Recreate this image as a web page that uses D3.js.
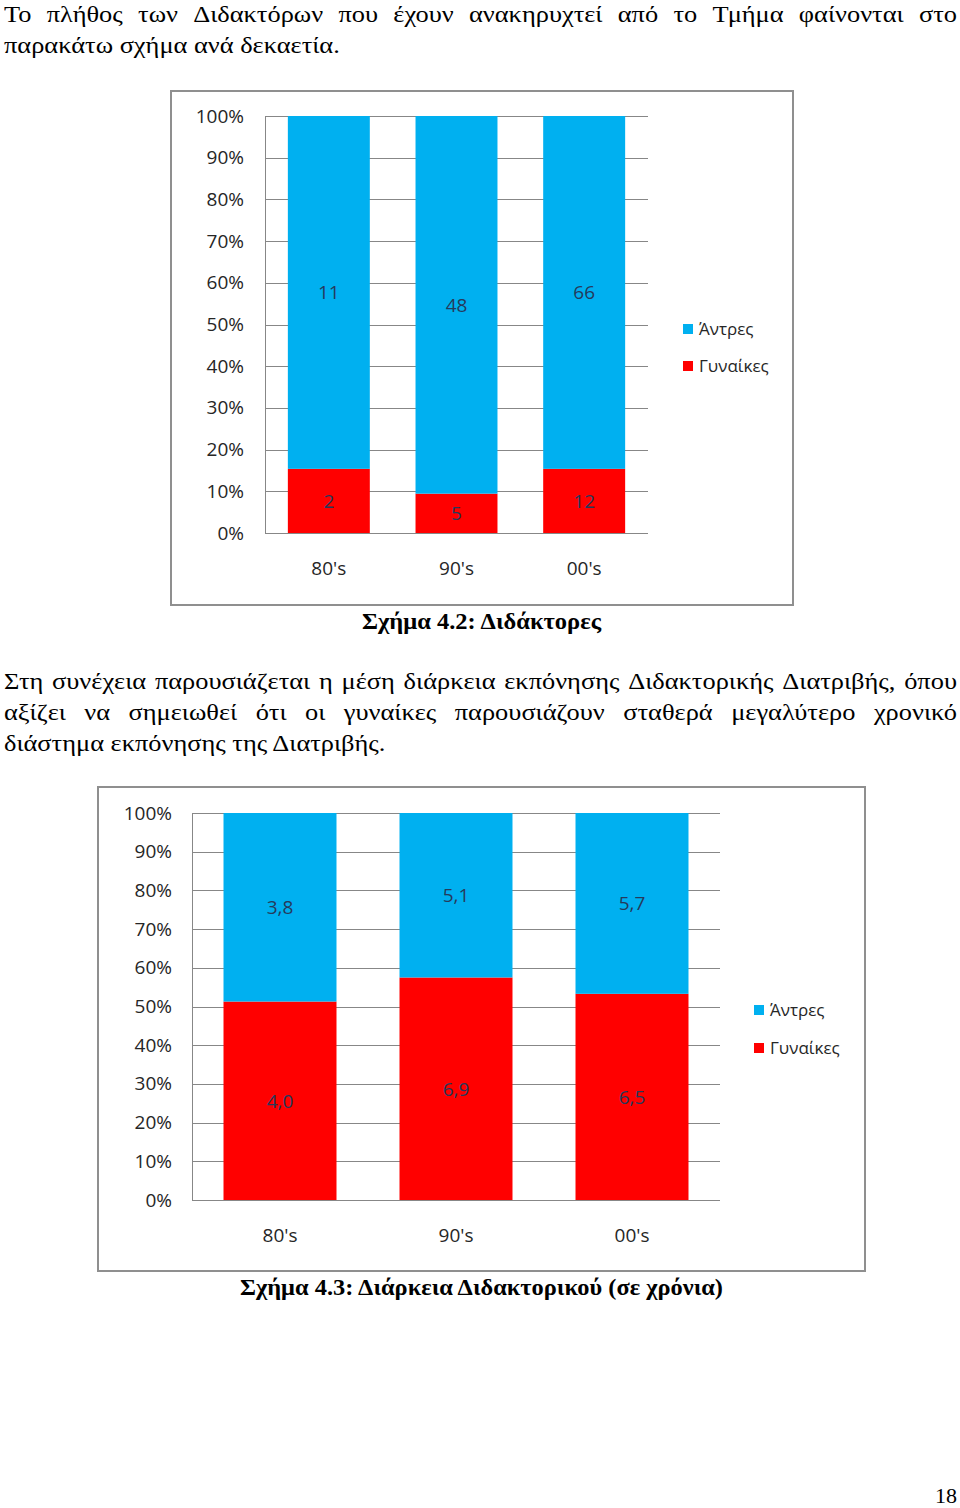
<!DOCTYPE html>
<html>
<head>
<meta charset="utf-8">
<script src="https://cdn.jsdelivr.net/npm/d3@7"></script>
<style>
html,body{margin:0;padding:0;background:#fff;}
svg{display:block;}
</style>
</head>
<body>
<svg id="page" width="960" height="1508"></svg>
<script>
// ---- data ----
const categories = ["80's", "90's", "00's"];
const seriesNames = ["Άντρες", "Γυναίκες"];
const menCount = [11, 48, 66];
const womenCount = [2, 5, 12];
const menDuration = [3.8, 5.1, 5.7];
const womenDuration = [4.0, 6.9, 6.5];
const yTickValues = [0, 0.1, 0.2, 0.3, 0.4, 0.5, 0.6, 0.7, 0.8, 0.9, 1.0];

const para1 = [
  "Το πλήθος των Διδακτόρων που έχουν ανακηρυχτεί από το Τμήμα φαίνονται στο",
  "παρακάτω σχήμα ανά δεκαετία."
];
const para2 = [
  "Στη συνέχεια παρουσιάζεται η μέση διάρκεια εκπόνησης Διδακτορικής Διατριβής, όπου",
  "αξίζει να σημειωθεί ότι οι γυναίκες παρουσιάζουν σταθερά μεγαλύτερο χρονικό",
  "διάστημα εκπόνησης της Διατριβής."
];
const caption1 = "Σχήμα 4.2: Διδάκτορες";
const caption2 = "Σχήμα 4.3: Διάρκεια Διδακτορικού (σε χρόνια)";
const pageNumber = "18";

const BLUE = "#00B0F0", RED = "#FF0000";
const SERIF = "'Liberation Serif','Times New Roman',serif";
const SANS = "'Open Sans','Noto Sans',sans-serif";

const svg = d3.select("#page");

// ---- body text with justification ----
function measure(str, size, weight) {
  const t = svg.append("text").attr("font-family", SERIF).attr("font-size", size)
    .attr("font-weight", weight || "normal").attr("x", -1000).attr("y", -1000).text(str);
  const w = t.node().getComputedTextLength();
  t.remove();
  return w;
}
const FS = 23;
// horizontal scale from the last line of paragraph 1 (ends at x≈340 in reference)
const kx = 336 / measure(para1[1], FS);

function drawLine(str, x0, baseline, justifyTo) {
  const g = svg.append("g").attr("transform", `translate(${x0},${baseline}) scale(${kx},1)`);
  if (!justifyTo) {
    g.append("text").attr("font-family", SERIF).attr("font-size", FS).attr("fill", "#000").text(str);
    return;
  }
  const words = str.split(" ");
  const widths = words.map(w => measure(w, FS));
  const total = d3.sum(widths);
  const avail = (justifyTo - x0) / kx;
  const gap = (avail - total) / (words.length - 1);
  let x = 0;
  words.forEach((w, i) => {
    g.append("text").attr("font-family", SERIF).attr("font-size", FS).attr("fill", "#000")
      .attr("x", x).text(w);
    x += widths[i] + gap;
  });
}
drawLine(para1[0], 4, 22, 957);
drawLine(para1[1], 4, 53);
drawLine(para2[0], 4, 689, 957);
drawLine(para2[1], 4, 720, 957);
drawLine(para2[2], 4, 751);

function drawCaption(str, cx, baseline, width) {
  svg.append("text").attr("font-family", SERIF).attr("font-size", 23).attr("font-weight", "bold")
    .attr("x", cx - width / 2).attr("y", baseline)
    .attr("textLength", width).attr("lengthAdjust", "spacingAndGlyphs").text(str);
}
drawCaption(caption1, 481.5, 629, 239);
drawCaption(caption2, 481.5, 1295, 483);

svg.append("text").attr("font-family", SERIF).attr("font-size", 22).attr("text-anchor", "end")
  .attr("x", 957).attr("y", 1503).text(pageNumber);

// ---- charts ----
function drawChart(cfg) {
  const g = svg.append("g");
  // frame
  g.append("rect").attr("x", cfg.frame[0]).attr("y", cfg.frame[1])
    .attr("width", cfg.frame[2] - cfg.frame[0]).attr("height", cfg.frame[3] - cfg.frame[1])
    .attr("fill", "#fff").attr("stroke", "#8f8f8f").attr("stroke-width", 2);

  const x = d3.scaleBand().domain(categories).range([cfg.plotX0, cfg.plotX1])
    .paddingInner(0.358).paddingOuter(0.179);
  const y = d3.scaleLinear().domain([0, 1]).range([cfg.plotY1, cfg.plotY0]);

  // gridlines
  g.append("g").selectAll("line").data(yTickValues).join("line")
    .attr("x1", cfg.plotX0).attr("x2", cfg.plotX1)
    .attr("y1", d => Math.round(y(d)) + 0.5).attr("y2", d => Math.round(y(d)) + 0.5)
    .attr("stroke", "#878787").attr("stroke-width", 1);
  // y axis line
  g.append("line").attr("x1", cfg.plotX0 + 0.5).attr("x2", cfg.plotX0 + 0.5)
    .attr("y1", cfg.plotY0).attr("y2", cfg.plotY1 + 1).attr("stroke", "#878787");

  // y tick labels (via d3 axis)
  const yAxis = d3.axisLeft(y).tickValues(yTickValues).tickFormat(d3.format(".0%"))
    .tickSize(0).tickPadding(cfg.plotX0 - cfg.tickRight);
  const ya = g.append("g").attr("transform", `translate(${cfg.plotX0},0)`).call(yAxis);
  ya.select(".domain").remove();
  ya.selectAll("text").attr("font-family", SANS).attr("font-size", 19).attr("fill", "#262626");

  // stacked data
  const rows = categories.map((c, i) => ({ cat: c, women: cfg.women[i], men: cfg.men[i] }));
  const stack = d3.stack().keys(["women", "men"]).offset(d3.stackOffsetExpand);
  const layers = stack(rows);
  const colors = { women: RED, men: BLUE };

  layers.forEach(layer => {
    g.append("g").selectAll("rect").data(layer).join("rect")
      .attr("x", d => x(d.data.cat)).attr("width", x.bandwidth())
      .attr("y", d => y(d[1])).attr("height", d => y(d[0]) - y(d[1]))
      .attr("fill", colors[layer.key]);
  });
  layers.forEach(layer => {
    g.append("g").selectAll("text").data(layer).join("text")
      .attr("x", d => x(d.data.cat) + x.bandwidth() / 2)
      .attr("y", d => (y(d[0]) + y(d[1])) / 2)
      .attr("dy", "0.36em").attr("text-anchor", "middle")
      .attr("font-family", SANS).attr("font-size", 19).attr("fill", "#253a5c")
      .text(d => cfg.fmt(d.data[layer.key]));
  });

  // x labels
  const xAxis = d3.axisBottom(x).tickSize(0).tickPadding(0);
  const xa = g.append("g").attr("transform", `translate(0,${cfg.xLabelY})`).call(xAxis);
  xa.select(".domain").remove();
  xa.selectAll("text").attr("dy", "0.36em").attr("y", 0)
    .attr("font-family", SANS).attr("font-size", 19).attr("fill", "#262626");

  // legend
  const legendKeys = [{ name: seriesNames[0], color: BLUE }, { name: seriesNames[1], color: RED }];
  const lg = g.append("g").selectAll("g").data(legendKeys).join("g")
    .attr("transform", (d, i) => `translate(${cfg.legendX},${cfg.legendY[i]})`);
  lg.append("rect").attr("x", 0).attr("y", -5).attr("width", 10).attr("height", 10).attr("fill", d => d.color);
  lg.append("text").attr("x", 16).attr("dy", "0.36em").attr("font-family", SANS).attr("font-size", 17)
    .attr("fill", "#262626").text(d => d.name);
}

drawChart({
  frame: [171, 91, 793, 605],
  plotX0: 265, plotX1: 648, plotY0: 116, plotY1: 533,
  tickRight: 244, xLabelY: 568,
  legendX: 683, legendY: [329, 366],
  men: menCount, women: womenCount,
  fmt: d3.format("d")
});
drawChart({
  frame: [98, 787, 865, 1271],
  plotX0: 192, plotX1: 720, plotY0: 813, plotY1: 1200,
  tickRight: 172, xLabelY: 1235,
  legendX: 754, legendY: [1010, 1048],
  men: menDuration, women: womenDuration,
  fmt: v => d3.format(".1f")(v).replace(".", ",")
});
</script>
</body>
</html>
